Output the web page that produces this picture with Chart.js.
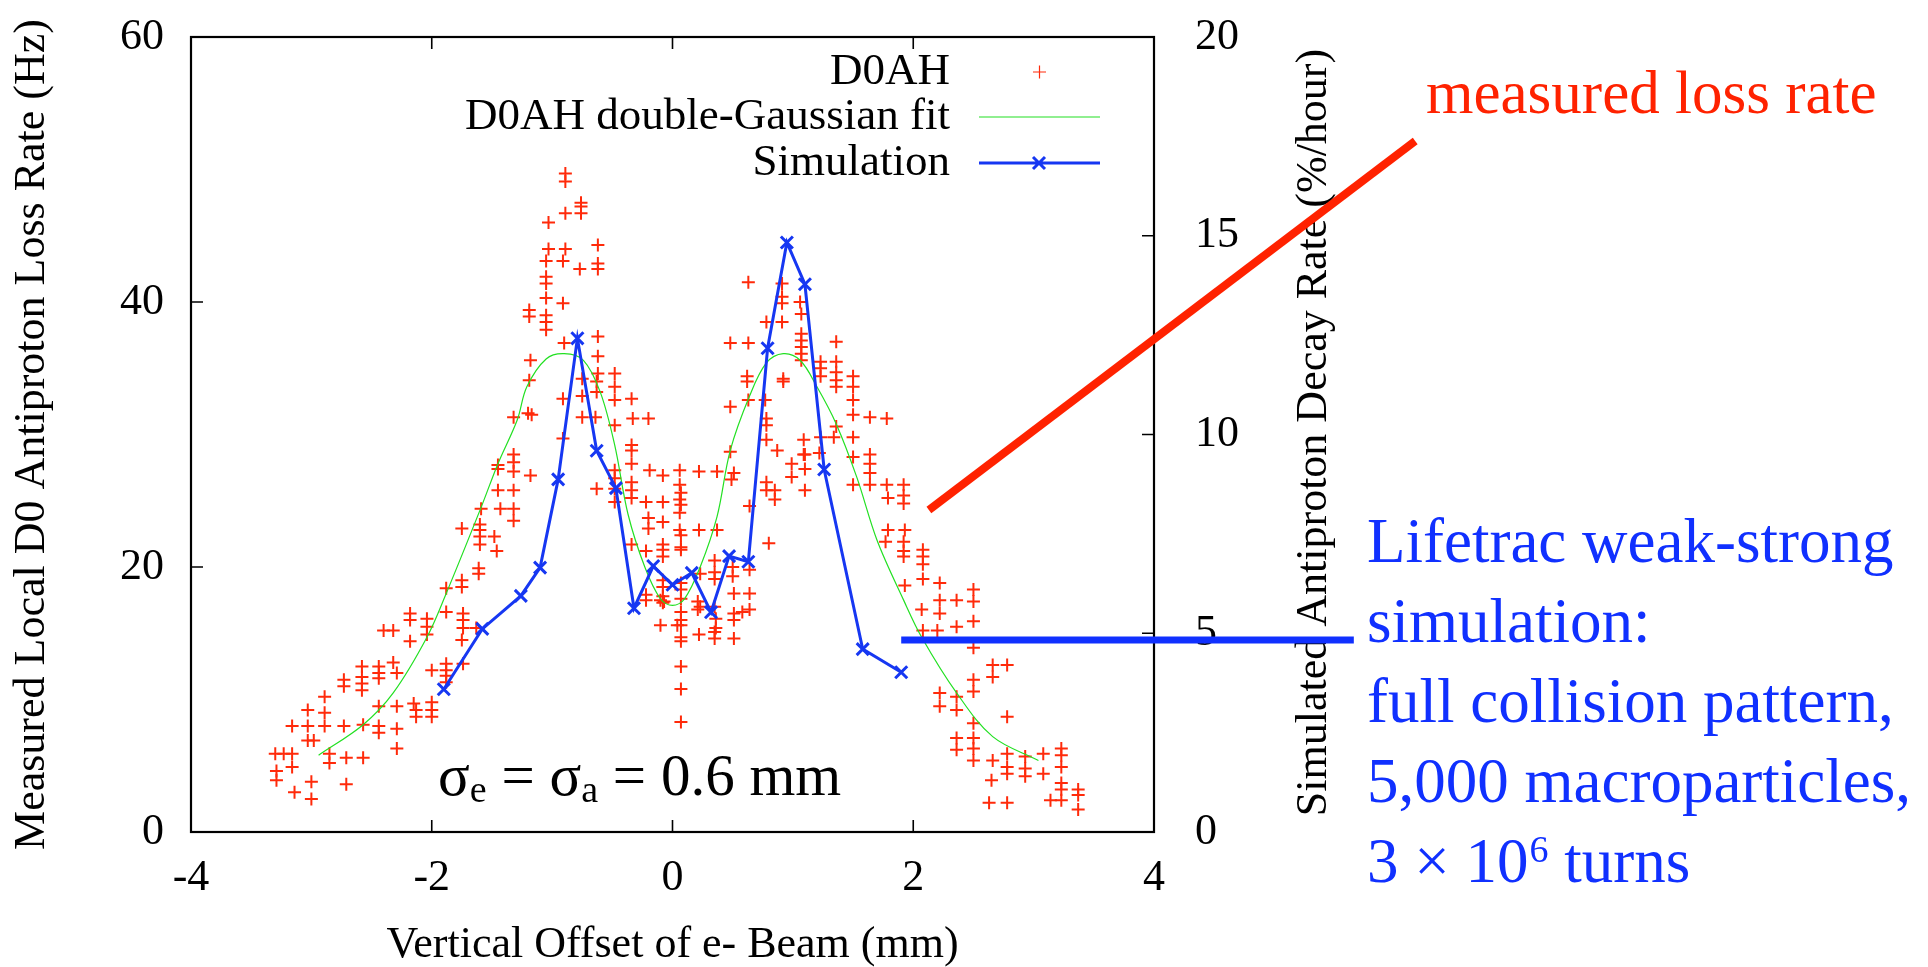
<!DOCTYPE html>
<html>
<head>
<meta charset="utf-8">
<title>D0AH loss rate vs e- beam offset</title>
<script src="https://cdn.jsdelivr.net/npm/chart.js@4.4.1/dist/chart.umd.min.js"></script>
<style>
  html, body { margin: 0; padding: 0; background: #fff; overflow: hidden; }
  canvas { display: block; }
</style>
</head>
<body>
<canvas id="myChart" width="1928" height="967"></canvas>
<script>
// axis ticks
const xTicks = [-4, -2, 0, 2, 4];
const lossTicks = [0, 20, 40, 60];
const decayTicks = [0, 5, 10, 15, 20];

// D0AH measured loss rate (Hz)
const d0ahX = [
  -0.89,-0.89,-0.76,-0.76,-0.76,-0.89,-1.03,-1.03,-0.89,-0.62,
  -0.62,-0.62,-1.05,-0.91,-0.77,-1.05,-1.05,-1.05,-0.91,-1.19,
  -1.19,-1.05,-1.05,-1.05,-0.90,-0.62,-0.62,-0.62,-1.18,-1.19,
  -0.75,-0.63,-0.48,-0.48,-0.48,-0.91,-0.75,-0.63,-0.34,-1.32,
  -1.20,-1.17,-0.75,-0.64,-0.48,-0.33,-0.20,-0.91,
  -1.32,-1.32,-1.32,-1.45,-1.45,-1.18,-1.45,-1.32,-1.59,-1.43,
  -1.32,-1.32,-1.75,-1.60,-1.60,-1.60,-1.60,-1.48,-1.46,-1.61,
  -1.61,-1.75,-1.75,-1.88,-2.18,-2.18,-2.04,-2.04,-2.04,-2.18,
  -1.88,-1.74,-1.74,-1.74,-1.63,-1.75,-2.32,-2.40,-2.58,-2.44,
  -2.44,-2.44,-2.32,-2.29,-2.58,-2.58,-2.73,-2.73,-2.58,-2.00,
  -1.88,-1.88,-1.88,-1.88,-1.74,-2.89,-2.89,-3.03,-3.03,-3.16,
  -3.03,-2.98,-2.89,-2.73,-2.57,-2.44,-2.29,-2.15,-2.13,-2.13,
  -2.00,-2.00,-2.00,-2.44,-2.44,-2.29,-2.29,-3.30,-3.23,-3.16,
  -3.16,-3.29,-3.29,-3.14,-3.00,-3.00,-2.85,-2.85,-2.71,-2.57,
  -2.71,-0.48,-0.48,-0.34,-0.34,-0.19,-0.34,-0.48,-0.63,-0.48,
  -0.34,-0.34,-0.34,-0.22,-0.20,-0.20,-0.34,-0.22,-0.22,-0.22,
  -0.10,
  0.63,0.91,0.91,0.91,1.06,1.07,0.78,0.91,
  1.07,1.07,1.07,1.07,1.07,1.36,1.36,1.23,1.23,1.23,
  1.36,1.36,1.36,1.50,1.50,1.50,1.50,1.64,1.78,0.48,
  0.63,0.62,0.62,0.92,0.92,0.63,0.77,0.48,0.78,0.78,
  0.78,0.87,0.48,1.09,1.09,1.23,1.34,1.50,1.50,1.64,
  1.64,1.64,1.78,1.92,1.92,1.92,1.79,1.50,1.64,1.93,
  1.79,0.99,1.10,1.10,0.99,0.78,0.78,0.85,0.85,1.10,
  0.64,-0.08,0.06,0.22,0.37,0.51,0.06,0.06,0.06,-0.08,
  -0.08,0.06,0.22,0.37,1.22,1.36,0.07,0.07,0.07,0.49,
  1.77,1.92,1.92,1.92,2.08,2.08,2.08,1.93,2.08,2.22,
  2.22,2.36,2.50,2.50,2.07,2.22,2.08,2.20,2.36,2.50,
  2.50,2.66,2.78,2.66,2.50,2.50,2.36,2.22,2.22,2.36,
  2.78,2.50,2.36,2.50,2.36,2.50,2.50,2.66,2.78,2.78,
  2.93,3.08,2.93,2.93,3.08,3.23,3.23,3.23,3.23,3.23,
  3.23,3.37,3.37,3.37,3.14,2.65,2.63,2.78,2.78,
  -0.08,-0.08,-0.08,-0.08,-0.08,-0.08,-0.08,-0.10,0.04,0.07,
  0.07,0.07,0.07,0.07,0.07,0.07,0.07,0.07,0.07,0.07,
  0.07,0.07,0.23,0.23,0.22,0.35,0.35,0.35,0.35,0.35,
  0.35,0.51,0.64,0.51,0.51,0.64,0.64,0.51,0.80,0.58,
  0.36,0.21,0.21,0.50,0.50,-0.07,0.36
];
const d0ahY = [
  49.7,49.1,47.5,47.2,46.7,46.7,46.0,44.0,44.0,44.3,
  42.9,42.5,43.1,43.1,42.5,41.9,41.4,40.3,39.9,39.4,
  38.9,39.0,38.5,37.9,36.9,37.4,35.9,34.6,35.6,34.1,
  34.2,34.0,34.6,33.6,32.6,32.7,32.9,33.2,32.7,31.3,
  31.6,31.5,31.3,31.3,30.7,31.2,31.2,29.7,
  28.5,27.9,27.2,27.7,27.4,26.9,25.8,25.8,24.4,24.4,
  24.4,23.5,22.9,23.2,22.8,22.3,21.7,22.3,21.2,19.9,
  19.5,19.0,18.5,18.4,16.5,16.0,16.1,15.5,14.9,14.4,
  16.6,16.5,16.0,15.4,15.4,14.5,15.2,15.2,12.5,12.5,
  12.0,11.6,12.8,12.0,11.7,11.2,11.5,11.0,10.7,12.2,
  12.7,12.2,11.8,11.3,12.7,10.2,9.0,9.2,8.0,8.0,
  6.9,6.9,8.0,8.0,8.1,9.5,9.5,9.7,9.2,8.7,
  9.8,9.2,8.7,8.0,7.5,7.8,6.3,5.9,5.9,5.9,
  4.9,4.6,3.9,3.0,3.8,2.5,5.9,5.2,5.6,5.6,
  3.6,27.3,26.7,29.2,28.8,27.3,27.8,25.9,25.9,24.9,
  26.4,25.8,25.2,24.9,23.7,22.9,21.7,21.2,17.9,17.5,
  17.5,
  41.5,41.4,40.4,39.9,40.0,39.1,38.5,38.5,
  37.6,37.1,36.6,36.1,35.6,37.0,35.5,35.5,35.0,34.4,
  34.7,34.1,33.6,34.4,33.6,32.6,31.5,31.3,31.2,36.9,
  36.9,34.4,34.0,34.2,34.0,32.6,32.6,32.1,31.2,30.7,
  29.6,28.8,28.7,29.6,28.5,29.8,29.8,29.8,28.3,28.5,
  27.8,27.1,26.2,26.2,25.4,24.8,25.2,26.2,26.2,22.8,
  22.8,27.8,27.4,28.5,26.8,26.4,25.8,25.8,25.1,25.8,
  24.6,26.9,27.3,27.2,27.2,27.1,26.2,25.1,24.1,24.9,
  23.4,22.8,22.8,22.8,28.6,30.6,25.6,24.7,22.4,26.6,
  21.9,21.9,21.2,20.8,21.3,20.8,20.2,18.6,19.1,18.8,
  17.5,17.5,18.3,17.4,16.8,16.5,15.2,15.2,15.5,15.9,
  13.9,12.6,12.6,11.7,11.5,10.6,10.2,10.5,9.5,9.2,
  8.7,8.2,7.1,7.1,6.2,6.3,5.4,5.4,5.9,4.9,
  5.7,5.9,4.8,4.2,4.4,6.3,5.8,4.9,3.7,3.2,
  2.4,3.2,2.8,1.7,2.4,3.9,2.2,2.2,4.4,
  21.7,21.3,20.8,19.0,18.5,17.8,17.3,15.6,15.6,21.5,
  21.3,18.8,18.3,17.6,16.6,16.0,15.6,14.7,14.4,12.5,
  10.8,8.3,19.5,17.0,14.9,20.5,19.6,19.1,17.0,15.1,
  14.6,18.0,18.0,16.5,16.0,16.8,19.8,14.6,21.8,16.6,
  15.4,17.4,16.8,19.3,20.0,17.4,16.1
];

// double-Gaussian fit curve (Hz)
const fitX = [-2.94,-2.57,-2.32,-2.04,-1.88,-1.59,-1.45,-1.29,-1.21,-1.05,-0.90,-0.74,-0.60,-0.48,-0.37,-0.23,-0.10,0.00,
              0.10,0.23,0.37,0.48,0.64,0.78,0.92,1.06,1.20,1.36,1.53,1.70,1.92,2.07,2.36,2.66,3.04];
const fitY = [5.8,8.1,10.5,14.7,18.0,24.5,27.8,31.1,33.6,35.7,36.1,35.6,33.2,29.2,24.0,20.0,17.6,17.1,
              17.6,20.0,23.8,28.8,32.9,35.4,36.1,35.6,33.6,30.8,26.8,22.0,17.5,14.7,10.5,7.2,5.4];

// Lifetrac simulation (%/hour, right axis)
const simX = [-1.90,-1.58,-1.26,-1.10,-0.95,-0.79,-0.63,-0.47,-0.32,-0.16,0.00,0.16,0.32,0.47,0.63,0.79,0.95,1.10,1.26,1.58,1.90];
const simY = [3.59,5.11,5.94,6.65,8.87,12.42,9.59,8.65,5.63,6.69,6.22,6.52,5.53,6.94,6.80,12.17,14.83,13.78,9.12,4.60,4.02];

const seriesNames = ['D0AH', 'D0AH double-Gaussian fit', 'Simulation'];

// annotation pointers, in (x, left-axis) units
const lossPointer = [[2.13, 24.3], [6.17, 52.15]];
const simPointer = [[1.90, 14.5], [5.66, 14.5]];

const RED = '#ff2a0a';
const GREEN = '#22e022';
const BLUE = '#1637f2';
const ANN_RED = '#ff2200';
const ANN_BLUE = '#1030ff';
const FONT = "'Liberation Serif', 'DejaVu Serif', serif";

Chart.defaults.font.family = FONT;
Chart.defaults.color = '#000';

const toPoints = (xs, ys) => xs.map((x, i) => ({x: x, y: ys[i]}));

// no label overhang padding, so the plot box lands where the reference has it
const noOverhang = s => {
  s.paddingTop = 0; s.paddingBottom = 0; s.paddingLeft = 0; s.paddingRight = 0;
};

const decor = {
  id: 'decor',
  afterDraw(chart) {
    const ctx = chart.ctx;
    const a = chart.chartArea;
    const sx = chart.scales.x, sy = chart.scales.y, sy1 = chart.scales.y1;
    ctx.save();

    // frame + inward ticks
    ctx.strokeStyle = '#000';
    ctx.lineWidth = 2.2;
    ctx.strokeRect(a.left, a.top, a.right - a.left, a.bottom - a.top);
    ctx.lineWidth = 1.6;
    ctx.beginPath();
    xTicks.forEach(v => {
      const p = sx.getPixelForValue(v);
      ctx.moveTo(p, a.bottom); ctx.lineTo(p, a.bottom - 12);
      ctx.moveTo(p, a.top); ctx.lineTo(p, a.top + 12);
    });
    lossTicks.forEach(v => {
      const p = sy.getPixelForValue(v);
      ctx.moveTo(a.left, p); ctx.lineTo(a.left + 12, p);
    });
    decayTicks.forEach(v => {
      const p = sy1.getPixelForValue(v);
      ctx.moveTo(a.right, p); ctx.lineTo(a.right - 12, p);
    });
    ctx.stroke();

    // right axis title, reading bottom to top
    ctx.save();
    ctx.translate(1314, (a.top + a.bottom) / 2 - 2);
    ctx.rotate(-Math.PI / 2);
    ctx.font = '44px ' + FONT;
    ctx.fillStyle = '#000';
    ctx.textAlign = 'center';
    ctx.textBaseline = 'middle';
    ctx.fillText('Simulated Antiproton Decay Rate (%/hour)', 0, 0);
    ctx.restore();

    // legend (text left, sample right)
    const rowY = [72, 117, 163];
    ctx.font = '45px ' + FONT;
    ctx.fillStyle = '#000';
    ctx.textAlign = 'right';
    ctx.textBaseline = 'middle';
    seriesNames.forEach((n, i) => ctx.fillText(n, 950, rowY[i]));
    ctx.strokeStyle = RED;
    ctx.lineWidth = 1.2;
    ctx.beginPath();
    ctx.moveTo(1033, rowY[0]); ctx.lineTo(1046, rowY[0]);
    ctx.moveTo(1039.5, rowY[0] - 6.5); ctx.lineTo(1039.5, rowY[0] + 6.5);
    ctx.stroke();
    ctx.strokeStyle = GREEN;
    ctx.lineWidth = 1.2;
    ctx.beginPath();
    ctx.moveTo(979, rowY[1]); ctx.lineTo(1100, rowY[1]);
    ctx.stroke();
    ctx.strokeStyle = BLUE;
    ctx.lineWidth = 3;
    ctx.beginPath();
    ctx.moveTo(979, rowY[2]); ctx.lineTo(1100, rowY[2]);
    ctx.moveTo(1033, rowY[2] - 6); ctx.lineTo(1045, rowY[2] + 6);
    ctx.moveTo(1033, rowY[2] + 6); ctx.lineTo(1045, rowY[2] - 6);
    ctx.stroke();

    // sigma label
    ctx.fillStyle = '#000';
    ctx.textAlign = 'left';
    ctx.textBaseline = 'alphabetic';
    let tx = 438;
    const base = 795;
    const big = '59px ' + FONT, small = '38px ' + FONT;
    const piece = (t, f, dy) => { ctx.font = f; ctx.fillText(t, tx, base + dy); tx += ctx.measureText(t).width; };
    piece('\u03c3', big, 0);
    piece('e', small, 7);
    piece(' = \u03c3', big, 0);
    piece('a', small, 7);
    piece(' = 0.6 mm', big, 0);

    // annotation text
    ctx.fillStyle = ANN_RED;
    ctx.font = '61px ' + FONT;
    ctx.fillText('measured loss rate', 1426, 113);
    ctx.fillStyle = ANN_BLUE;
    ctx.font = '63px ' + FONT;
    ctx.fillText('Lifetrac weak-strong', 1367, 562);
    ctx.fillText('simulation:', 1367, 642);
    ctx.fillText('full collision pattern,', 1367, 722);
    ctx.fillText('5,000 macroparticles,', 1367, 802);
    tx = 1367;
    const b5 = 882;
    ctx.font = '63px ' + FONT;
    ctx.fillText('3 \u00d7 10', tx, b5);
    tx += ctx.measureText('3 \u00d7 10').width + 1;
    ctx.font = '38px ' + FONT;
    ctx.fillText('6', tx, b5 - 20);
    tx += ctx.measureText('6').width;
    ctx.font = '63px ' + FONT;
    ctx.fillText(' turns', tx, b5);

    // pointer lines
    const px = p => [sx.getPixelForValue(p[0]), sy.getPixelForValue(p[1])];
    ctx.lineCap = 'butt';
    ctx.strokeStyle = ANN_RED;
    ctx.lineWidth = 8;
    ctx.beginPath();
    ctx.moveTo(...px(lossPointer[0]));
    ctx.lineTo(...px(lossPointer[1]));
    ctx.stroke();
    ctx.strokeStyle = ANN_BLUE;
    ctx.lineWidth = 7;
    ctx.beginPath();
    ctx.moveTo(...px(simPointer[0]));
    ctx.lineTo(...px(simPointer[1]));
    ctx.stroke();

    ctx.restore();
  }
};

const ctx = document.getElementById('myChart');

new Chart(ctx, {
  type: 'scatter',
  data: {
    datasets: [
      {
        label: seriesNames[2],
        data: toPoints(simX, simY),
        yAxisID: 'y1',
        showLine: true,
        borderColor: BLUE,
        backgroundColor: BLUE,
        borderWidth: 3,
        pointStyle: 'crossRot',
        pointRadius: 8.5,
        pointBorderWidth: 3,
        pointBorderColor: BLUE,
        order: 0
      },
      {
        label: seriesNames[1],
        data: toPoints(fitX, fitY),
        yAxisID: 'y',
        showLine: true,
        borderColor: GREEN,
        borderWidth: 1.2,
        pointRadius: 0,
        tension: 0.35,
        order: 1
      },
      {
        label: seriesNames[0],
        data: toPoints(d0ahX, d0ahY),
        yAxisID: 'y',
        pointStyle: 'cross',
        pointRadius: 6.5,
        pointBorderWidth: 2,
        pointBorderColor: RED,
        backgroundColor: RED,
        order: 2
      }
    ]
  },
  options: {
    responsive: false,
    animation: false,
    events: [],
    layout: { padding: { top: 37, left: 0, right: 0, bottom: 0 } },
    plugins: {
      legend: { display: false },
      tooltip: { enabled: false }
    },
    scales: {
      x: {
        type: 'linear',
        min: -4, max: 4,
        afterBuildTicks: s => { s.ticks = xTicks.map(v => ({value: v})); },
        afterFit: s => { s.height = 135; noOverhang(s); },
        grid: { display: false, drawTicks: false },
        border: { display: false },
        ticks: {
          autoSkip: false, maxRotation: 0, padding: 20,
          font: { size: 44 },
          callback: v => String(v)
        },
        title: {
          display: true,
          text: 'Vertical Offset of e- Beam (mm)',
          font: { size: 44, lineHeight: 1 },
          padding: { top: 0, bottom: 0 }
        }
      },
      y: {
        position: 'left',
        min: 0, max: 60,
        afterBuildTicks: s => { s.ticks = lossTicks.map(v => ({value: v})); },
        afterFit: s => { s.width = 191; noOverhang(s); },
        grid: { display: false, drawTicks: false },
        border: { display: false },
        ticks: { autoSkip: false, padding: 27, font: { size: 44 } },
        title: {
          display: true,
          text: 'Measured Local D0 Antiproton Loss Rate (Hz)',
          font: { size: 44, lineHeight: 1 },
          padding: { top: 10, bottom: 0 }
        }
      },
      y1: {
        position: 'right',
        min: 0, max: 20,
        afterBuildTicks: s => { s.ticks = decayTicks.map(v => ({value: v})); },
        afterFit: s => { s.width = 774; noOverhang(s); },
        grid: { display: false, drawTicks: false },
        border: { display: false },
        ticks: { autoSkip: false, padding: 41, font: { size: 44 } }
      }
    }
  },
  plugins: [decor]
});
</script>
</body>
</html>
